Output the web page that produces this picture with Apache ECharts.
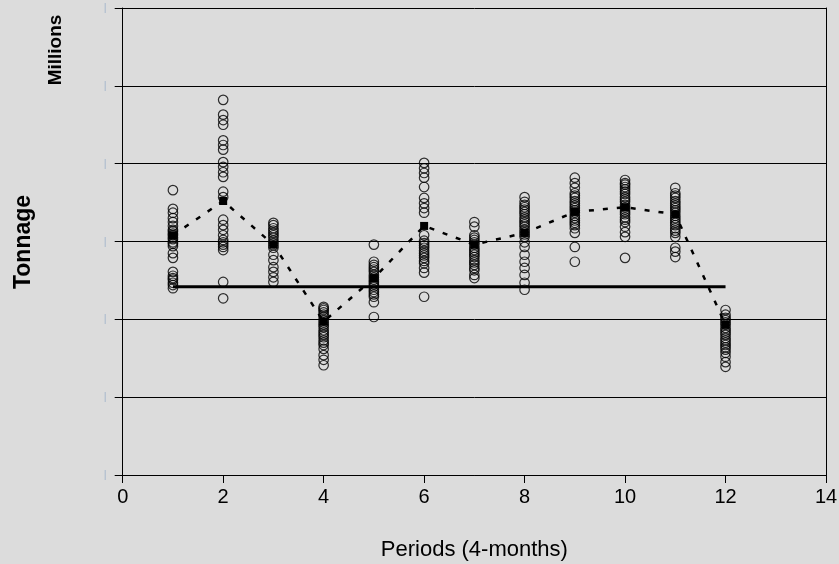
<!DOCTYPE html>
<html>
<head>
<meta charset="utf-8">
<script src="https://cdn.jsdelivr.net/npm/echarts@6/dist/echarts.min.js"></script>
<style>
html,body{margin:0;padding:0;background:#dcdcdc;}
#c{width:839px;height:564px;}
</style>
</head>
<body>
<div id="c"></div>
<script>
// Tonnage (millions) per 4-month period
const periods = [1,2,3,4,5,6,7,8,9,10,11,12];
const obs1  = [3.66,3.42,3.37,3.30,3.25,3.20,3.15,3.13,3.10,3.08,3.05,3.03,2.99,2.97,2.94,2.85,2.79,2.61,2.56,2.53,2.51,2.47,2.44,2.40];
const obs2  = [4.82,4.63,4.56,4.50,4.30,4.24,4.18,4.02,3.96,3.89,3.83,3.64,3.57,3.28,3.21,3.15,3.08,3.02,2.99,2.96,2.93,2.89,2.48,2.27];
const obs3  = [3.24,3.21,3.17,3.14,3.11,3.08,3.05,3.01,2.98,2.95,2.92,2.83,2.76,2.67,2.61,2.54,2.48];
const obs4  = [2.16,2.14,2.12,2.09,2.06,2.03,1.99,1.96,1.93,1.90,1.86,1.83,1.80,1.77,1.73,1.70,1.67,1.62,1.54,1.48,1.41];
const obs5  = [2.96,2.74,2.70,2.67,2.64,2.61,2.57,2.54,2.51,2.48,2.45,2.42,2.38,2.35,2.32,2.29,2.22,2.03];
const obs6  = [4.01,3.94,3.88,3.82,3.70,3.56,3.49,3.43,3.37,3.08,3.01,2.98,2.95,2.92,2.88,2.85,2.82,2.79,2.75,2.72,2.66,2.60,2.29];
const obs7  = [3.25,3.19,3.08,3.05,3.02,2.99,2.96,2.92,2.89,2.86,2.83,2.80,2.76,2.73,2.70,2.66,2.63,2.57,2.53];
const obs8  = [3.57,3.51,3.47,3.44,3.41,3.38,3.35,3.31,3.28,3.25,3.22,3.19,3.15,3.12,3.09,3.06,2.99,2.93,2.83,2.74,2.66,2.57,2.47,2.38];
const obs9  = [3.82,3.75,3.69,3.62,3.59,3.56,3.52,3.49,3.46,3.43,3.40,3.37,3.33,3.30,3.27,3.24,3.21,3.17,3.11,2.93,2.74];
const obs10 = [3.79,3.75,3.73,3.70,3.67,3.64,3.61,3.57,3.54,3.51,3.47,3.44,3.41,3.38,3.35,3.31,3.28,3.25,3.19,3.12,3.06,2.79];
const obs11 = [3.69,3.62,3.59,3.56,3.52,3.49,3.46,3.43,3.40,3.37,3.33,3.30,3.27,3.24,3.21,3.17,3.14,3.11,3.06,2.92,2.87,2.80];
const obs12 = [2.12,2.06,2.02,1.99,1.96,1.93,1.89,1.86,1.83,1.80,1.76,1.73,1.70,1.67,1.64,1.61,1.57,1.52,1.45,1.39];
const periodMeans = [3.08,3.52,2.96,1.97,2.53,3.20,2.96,3.11,3.38,3.44,3.35,1.93];
const overallLevel = 2.42;
const overallSpan = [1,12];
const xTicks = [0,2,4,6,8,10,12,14];
const yTicks = [0,1,2,3,4,5,6];

const allObs = [obs1,obs2,obs3,obs4,obs5,obs6,obs7,obs8,obs9,obs10,obs11,obs12];
const scatterData = [];
allObs.forEach((arr,i)=>arr.forEach(v=>scatterData.push([periods[i],v])));
const meanData = periods.map((p,i)=>[p,periodMeans[i]]);
const levelData = overallSpan.map(p=>[p,overallLevel]);

const chart = echarts.init(document.getElementById('c'), null, {renderer:'canvas'});
const FONT = '"Liberation Sans", Arial, sans-serif';
chart.setOption({
  backgroundColor:'#dcdcdc',
  animation:false,
  grid:{left:122.7,right:13,top:8,bottom:89,containLabel:false,outerBoundsMode:'none'},
  xAxis:{
    type:'value',min:xTicks[0],max:xTicks[xTicks.length-1],interval:2,
    axisLine:{show:true,lineStyle:{color:'#000',width:1}},
    axisTick:{show:true,inside:false,length:8,lineStyle:{color:'#000'}},
    splitLine:{show:false},
    axisLabel:{color:'#000',fontSize:20,fontFamily:FONT,margin:12},
    name:'Periods (4-months)',nameLocation:'middle',nameGap:64,
    nameTextStyle:{color:'#000',fontSize:22,fontFamily:FONT}
  },
  yAxis:[{
    type:'value',min:yTicks[0],max:yTicks[yTicks.length-1],interval:1,
    axisLine:{show:true,lineStyle:{color:'#000',width:1}},
    axisTick:{show:true,inside:false,length:8,lineStyle:{color:'#000'}},
    splitLine:{show:true,lineStyle:{color:'#000',width:1}},
    axisLabel:{color:'#a5b6cb',fontSize:11,fontFamily:FONT,margin:16,formatter:()=>'|'}
  },{
    type:'value',position:'right',min:0,max:6,interval:1,
    axisLine:{show:true,lineStyle:{color:'#000',width:1}},
    axisTick:{show:false},axisLabel:{show:false},splitLine:{show:false}
  }],
  graphic:[
    {type:'text',x:24,y:242,rotation:Math.PI/2,
     style:{text:'Tonnage',fill:'#000',font:'bold 23px '+FONT,align:'center',verticalAlign:'middle'}},
    {type:'text',x:56,y:50,rotation:Math.PI/2,
     style:{text:'Millions',fill:'#000',font:'bold 19px '+FONT,align:'center',verticalAlign:'middle'}}
  ],
  series:[
    {type:'line',data:levelData,symbol:'none',lineStyle:{color:'#000',width:3},z:2},
    {type:'line',data:meanData,symbol:'rect',symbolSize:8,itemStyle:{color:'#000'},
     lineStyle:{color:'#000',width:2.5,type:[5,9]},z:3},
    {type:'scatter',data:scatterData,symbol:'circle',symbolSize:9.5,
     itemStyle:{color:'rgba(0,0,0,0)',borderColor:'#000',borderWidth:1.2},z:4}
  ]
});
</script>
</body>
</html>
